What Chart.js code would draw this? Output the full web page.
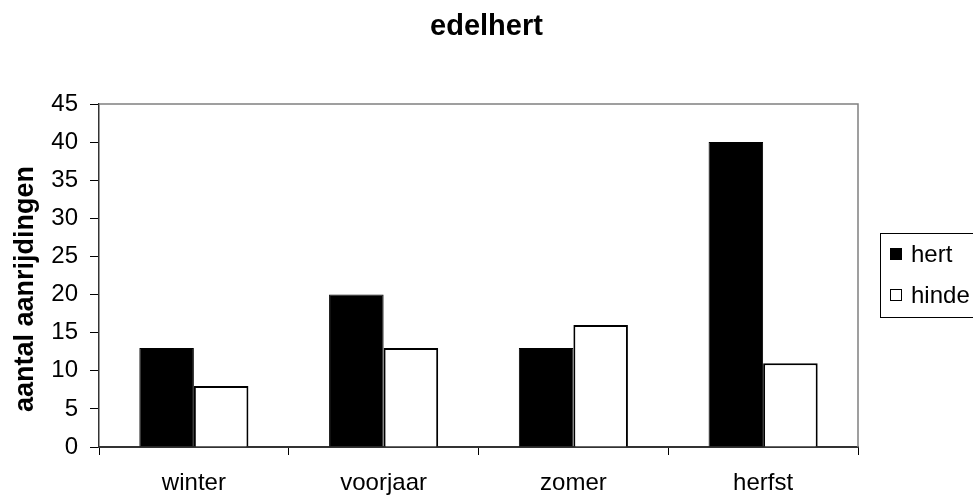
<!DOCTYPE html>
<html>
<head>
<meta charset="utf-8">
<script src="https://cdn.jsdelivr.net/npm/chart.js@4/dist/chart.umd.min.js"></script>
<style>
  html, body { margin: 0; padding: 0; background: #fff; overflow: hidden; }
  #wrap { width: 973px; height: 497px; position: relative; }
</style>
</head>
<body>
<div id="wrap"><canvas id="grafiek"></canvas></div>
<script>
// Gegevens
const seizoenen = ['winter', 'voorjaar', 'zomer', 'herfst'];
const hert = [13, 20, 13, 40];
const hinde = [8, 13, 16, 11];
const titel = 'edelhert';
const yTitel = 'aantal aanrijdingen';

const FONT = '"Liberation Sans", Arial, sans-serif';

// Titel, y-titel, kader boven/rechts en legende met rand
const extraTekenen = {
  id: 'extraTekenen',
  beforeDatasetsDraw(chart) {
    const { ctx, chartArea: a } = chart;
    ctx.save();
    ctx.strokeStyle = '#808080';
    ctx.lineWidth = 1.5;
    ctx.beginPath();
    ctx.moveTo(a.left, a.top);
    ctx.lineTo(a.right, a.top);
    ctx.lineTo(a.right, a.bottom);
    ctx.stroke();
    ctx.restore();
  },
  afterDraw(chart) {
    const ctx = chart.ctx;
    ctx.save();
    // titel
    ctx.fillStyle = '#000';
    ctx.font = 'bold 29px ' + FONT;
    ctx.textAlign = 'center';
    ctx.textBaseline = 'alphabetic';
    ctx.fillText(titel, chart.width / 2, 35);

    // y-as titel
    ctx.save();
    ctx.translate(33, 289);
    ctx.rotate(-Math.PI / 2);
    ctx.font = 'bold 27px ' + FONT;
    ctx.fillText(yTitel, 0, 0);
    ctx.restore();

    // legende
    const lx = 880, ly = 233, lw = 110, lh = 84;
    ctx.strokeStyle = '#000';
    ctx.lineWidth = 1;
    ctx.strokeRect(lx + 0.5, ly + 0.5, lw, lh);
    ctx.font = '24px ' + FONT;
    ctx.textAlign = 'left';
    ctx.textBaseline = 'middle';
    chart.data.datasets.forEach((ds, i) => {
      const y = ly + 21 + i * 41;
      ctx.fillStyle = ds.backgroundColor;
      ctx.fillRect(lx + 10, y - 6, 12, 12);
      ctx.strokeStyle = '#000';
      ctx.lineWidth = 1;
      ctx.strokeRect(lx + 10.5, y - 5.5, 11, 11);
      ctx.fillStyle = '#000';
      ctx.fillText(ds.label, lx + 31, y + 1);
    });
    ctx.restore();
  }
};

new Chart(document.getElementById('grafiek'), {
  type: 'bar',
  data: {
    labels: seizoenen,
    datasets: [
      { label: 'hert', data: hert, backgroundColor: '#000000', borderColor: '#000000', borderWidth: 1 },
      { label: 'hinde', data: hinde, backgroundColor: '#ffffff', borderColor: '#000000', borderWidth: 2 }
    ]
  },
  options: {
    responsive: true,
    maintainAspectRatio: false,
    animation: false,
    layout: { padding: { top: 104, right: 115, left: 0, bottom: 0 } },
    datasets: { bar: { categoryPercentage: 0.575, barPercentage: 1.0 } },
    plugins: {
      legend: { display: false },
      title: { display: false },
      tooltip: { enabled: false }
    },
    scales: {
      x: {
        offset: true,
        grid: { offset: true, drawOnChartArea: false, drawTicks: true, tickLength: 8, color: '#000' },
        border: { color: '#333', width: 2 },
        ticks: { color: '#000', font: { family: FONT, size: 24 }, padding: 14 },
        afterFit(scale) { scale.height = 50; }
      },
      y: {
        min: 0,
        max: 45,
        ticks: { stepSize: 5, color: '#000', font: { family: FONT, size: 24 }, padding: 12 },
        grid: { drawOnChartArea: false, drawTicks: true, tickLength: 9, color: '#000' },
        border: { color: '#333', width: 1.5 },
        afterFit(scale) { scale.width = 99; }
      }
    }
  },
  plugins: [extraTekenen]
});
</script>
</body>
</html>
